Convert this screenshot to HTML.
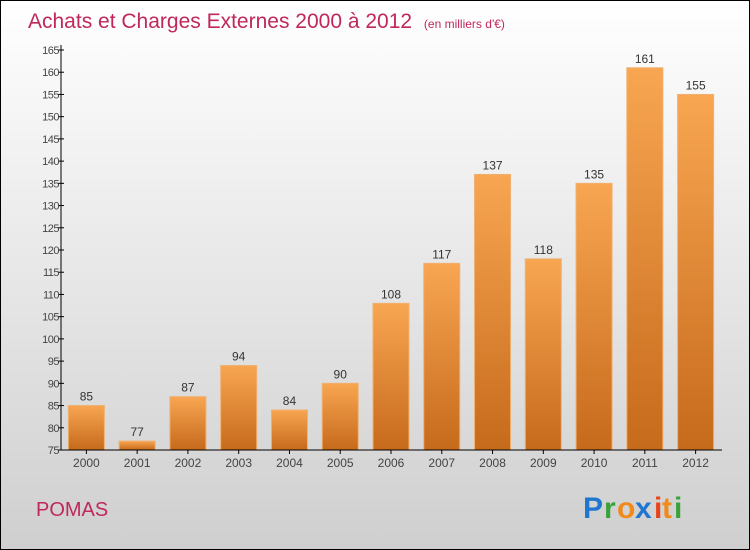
<!DOCTYPE html>
<html><head><meta charset="utf-8"><style>
body{margin:0}
#c{width:748px;height:548px;border:1px solid #000;background:linear-gradient(#ffffff,#cfcfcf);position:relative;font-family:"Liberation Sans",sans-serif;overflow:hidden}
</style></head><body>
<div id="c">
<svg id="s" width="748" height="548">
<defs><linearGradient id="g" x1="0" y1="0" x2="0" y2="1"><stop offset="0" stop-color="#f8a652"/><stop offset="1" stop-color="#c66a1b"/></linearGradient></defs>
<text x="27" y="27" font-size="21" fill="#c0285a">Achats et Charges Externes 2000 à 2012 <tspan font-size="12" dx="6">(en milliers d'€)</tspan></text>
<text x="35" y="515" font-size="20" fill="#c0285a">POMAS</text>
<g font-size="30" font-weight="bold" font-family="Liberation Sans, sans-serif"><text x="582" y="517" fill="#1f77d0">P</text><text x="603" y="517" fill="#3aa23a">r</text><text x="616" y="517" fill="#f08a1a">o</text><text x="634" y="517" fill="#1f77d0">x</text><text x="653" y="517" fill="#e8441a">i</text><text x="661" y="517" fill="#f08a1a">t</text><text x="673" y="517" fill="#3aa23a">i</text></g>
<g id="plot"></g>
</svg></div>
<script>
const years=["2000","2001","2002","2003","2004","2005","2006","2007","2008","2009","2010","2011","2012"];
const values=[85,77,87,94,84,90,108,117,137,118,135,161,155];
const ticks=[75,80,85,90,95,100,105,110,115,120,125,130,135,140,145,150,155,160,165];
const ns="http://www.w3.org/2000/svg",p=document.getElementById('plot');
const x0=60,x1=720,yb=449,yt=49,vmin=75,vmax=165;
const y=v=>yb-(v-vmin)/(vmax-vmin)*(yb-yt);
const slot=(x1-x0)/years.length;
function el(t,a,par){const e=document.createElementNS(ns,t);for(const k in a)e.setAttribute(k,a[k]);(par||p).appendChild(e);return e;}
ticks.forEach(t=>{
 const l=el('line',{x1:x0-3,x2:x0+3,y1:y(t),y2:y(t),stroke:'#000'});
 
 
 const tx=el('text',{x:x0-2,y:y(t)+4,'font-size':11,fill:'#444','text-anchor':'end','letter-spacing':'-0.5'});
 tx.textContent=t;
 
 
});
years.forEach((yr,i)=>{
 const cx=x0+slot*(i+0.5),w=36;
 const r=el('rect',{x:cx-w/2,y:y(values[i]),width:w,height:yb-y(values[i]),fill:'url(#g)',stroke:'#f0b070','stroke-width':1});
 
 
 const v=el('text',{x:cx,y:y(values[i])-5,'font-size':12,fill:'#333','text-anchor':'middle'});
 v.textContent=values[i];
 
 
 const tk=el('line',{x1:cx,x2:cx,y1:yb,y2:yb+4,stroke:'#000'});
 
 
 const t=el('text',{x:cx,y:yb+17,'font-size':12,fill:'#444','text-anchor':'middle'});
 t.textContent=yr;
 
 
});
const ya=el('line',{x1:x0,x2:x0,y1:yt-5,y2:yb,stroke:'#000'});


const xa=el('line',{x1:x0,x2:x1+1,y1:yb,y2:yb,stroke:'#000'});


</script></body></html>
